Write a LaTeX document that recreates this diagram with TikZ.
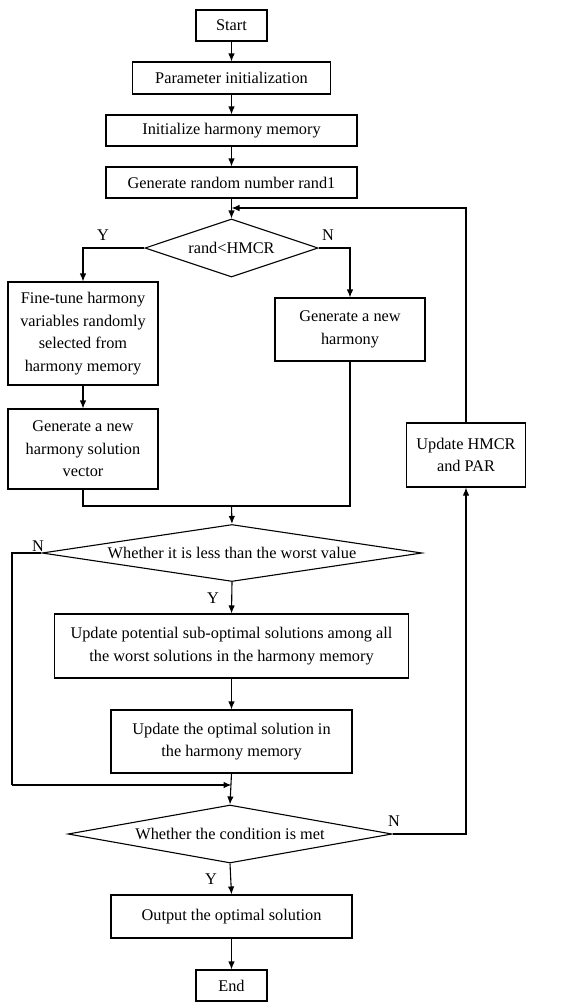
\documentclass[tikz,border=0pt]{standalone}
\usepackage{fontspec}
\setmainfont{Liberation Serif}
\usetikzlibrary{shapes.geometric,arrows.meta}

\tikzset{
  box/.style={draw, line width=1.1pt, align=center, inner sep=1pt},
  dec/.style={draw, diamond, line width=1.1pt, inner sep=0pt},
  lbl/.style={inner sep=0pt}
}

\begin{document}
\begin{tikzpicture}[x=1pt, y=-1pt, >={Latex[length=8pt,width=6.5pt]}, font=\fontsize{16.3}{22.6}\selectfont]
          \useasboundingbox (0,0) rectangle (566,1002);

          \node[box, minimum width=71, minimum height=31] (start) at (231.5,25.5) {Start};
          \node[box, minimum width=198, minimum height=32] (param) at (231.5,78) {Parameter initialization};
          \node[box, minimum width=251, minimum height=31] (inithm) at (231.5,130.5) {Initialize harmony memory};
          \node[box, minimum width=251, minimum height=31] (rand) at (231.5,182.5) {Generate random number rand1};
          \node[dec, minimum width=173, minimum height=58, aspect=2.98] (hmcrtest) at (231.5,248) {rand<HMCR};
          \node[box, minimum width=150, minimum height=103] (finetune) at (83,333.5)
              {Fine-tune harmony\\variables randomly\\selected from\\harmony memory};
          \node[box, minimum width=150, minimum height=63] (newharm) at (350,329.5) {Generate a new\\harmony};
          \node[box, minimum width=150, minimum height=80] (vector) at (83,449)
              {Generate a new\\harmony solution\\vector};
          \node[dec, minimum width=380, minimum height=57, aspect=6.67] (worsttest) at (232,553)
              {Whether it is less than the worst value};
          \node[box, minimum width=354, minimum height=64] (subopt) at (231.5,646)
              {Update potential sub-optimal solutions among all\\the worst solutions in the harmony memory};
          \node[box, minimum width=241, minimum height=63] (optim) at (231.5,741.5)
              {Update the optimal solution in\\the harmony memory};
          \node[dec, minimum width=324, minimum height=58, aspect=5.59] (condtest) at (230,834) {Whether the condition is met};
          \node[box, minimum width=241, minimum height=43] (output) at (231.5,916.5) {Output the optimal solution};
          \node[box, minimum width=71, minimum height=31] (end) at (231.5,985.5) {End};
          \node[box, minimum width=119, minimum height=64] (update) at (466,455) {Update HMCR\\and PAR};

          \coordinate (loop) at (231.5,208);
          \coordinate (merge) at (231.5,506);
          \coordinate (skip) at (12,785);
          \coordinate (join) at (231.5,785);

          \begin{scope}[line width=1.1pt]
              \draw[->] (start) -- (param);
              \draw[->] (param) -- (inithm);
              \draw[->] (inithm) -- (rand);
              \draw[->] (rand) -- (hmcrtest);
              \draw[->] (update.north) |- (loop);
              \draw[->] (hmcrtest.west) -| (finetune.north);
              \draw[->] (hmcrtest.east) -| (newharm.north);
              \draw[->] (finetune) -- (vector);
              \draw (vector.south) |- (merge);
              \draw (newharm.south) |- (merge);
              \draw[->] (merge) -- (worsttest.north);
              \draw (worsttest.west) -| (skip);
              \draw[->] (skip) -- (join);
              \draw[->] (worsttest.south) -- (subopt.north);
              \draw[->] (subopt) -- (optim);
              \draw[->] (optim.south) -- (condtest.north);
              \draw[->] (condtest.east) -| (update.south);
              \draw[->] (condtest.south) -- (output.north);
              \draw[->] (output) -- (end);
          \end{scope}

          \node[lbl] (y1) at (103,235) {Y};
          \node[lbl] (n1) at (328,235) {N};
          \node[lbl] (n2) at (38,546) {N};
          \node[lbl] (y2) at (213,598) {Y};
          \node[lbl] (n3) at (394,821) {N};
          \node[lbl] (y3) at (211,879) {Y};
\end{tikzpicture}
\end{document}
